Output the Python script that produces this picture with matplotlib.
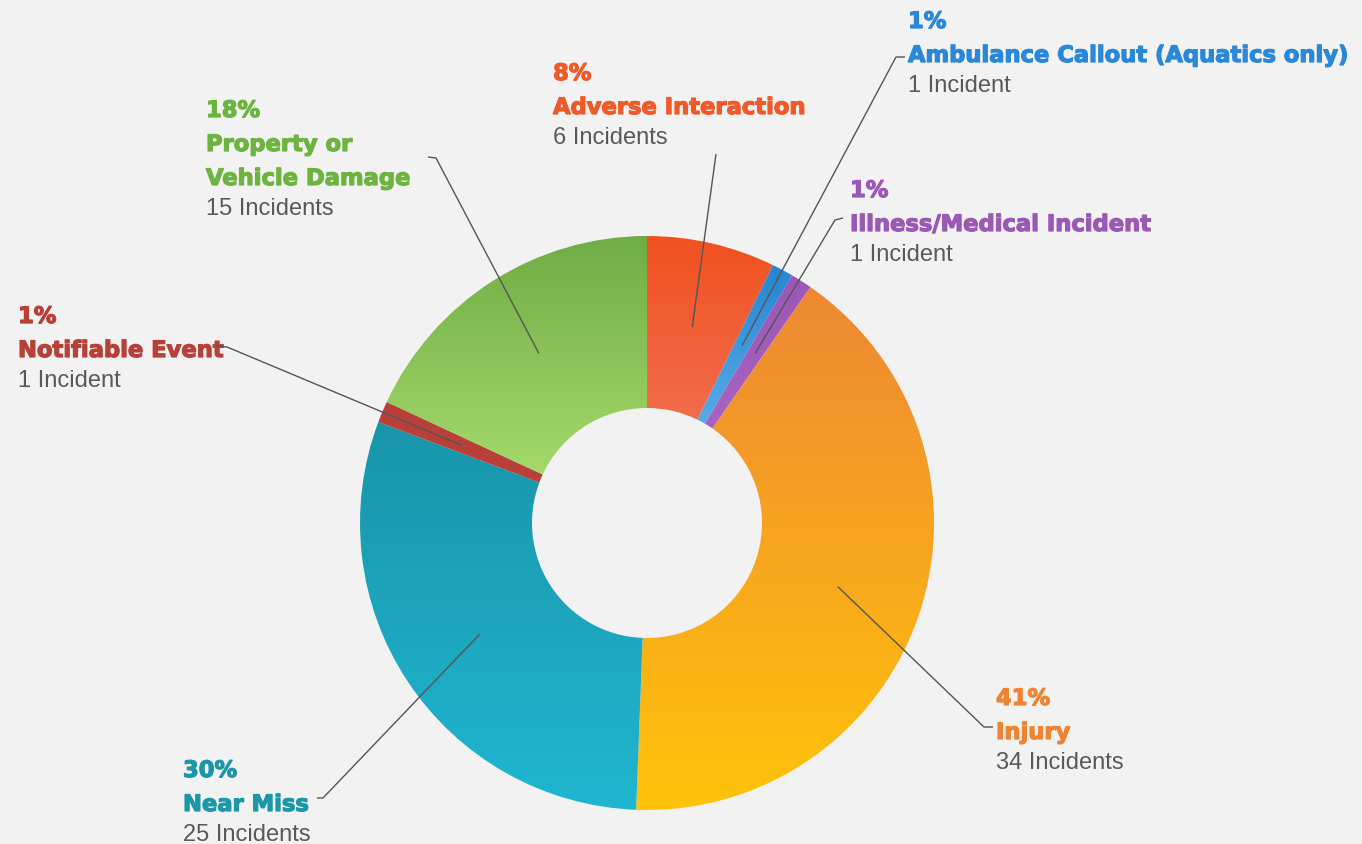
import numpy as np
import matplotlib
matplotlib.use("Agg")
import matplotlib.pyplot as plt
import matplotlib.patheffects as pe
from matplotlib.patches import Wedge
from matplotlib.colors import LinearSegmentedColormap

# data, clockwise from 12 o'clock
names = ["Adverse Interaction", "Ambulance Callout (Aquatics only)",
         "Illness/Medical Incident", "Injury", "Near Miss",
         "Notifiable Event", "Property or\nVehicle Damage"]
counts = [6, 1, 1, 34, 25, 1, 15]
pct_labels = ["8%", "1%", "1%", "41%", "30%", "1%", "18%"]
count_labels = ["6 Incidents", "1 Incident", "1 Incident", "34 Incidents",
                "25 Incidents", "1 Incident", "15 Incidents"]

# gradient top -> bottom for each slice, and label colour
grad_top = ["#F0511F", "#2586D0", "#9A57B5", "#EE8834", "#1995A9", "#B9403A", "#70AC45"]
grad_bot = ["#F26C4C", "#58AAE7", "#AA62C2", "#FFC30A", "#20B6D1", "#B9403A", "#A5D96B"]
text_col = ["#F05A28", "#2B88D8", "#9B59B6", "#EE8433", "#1A97A8", "#B94038", "#6DB33F"]

# label placement (pixel coords, y down): text x, first baseline, connector corner, tick end
label_x = [553, 908, 850, 996, 183, 18, 206]
label_y = [80, 28, 197, 705, 777, 323, 117]
corner = [(716, 154), (896, 57), (835, 220), (984, 727), (323, 798), (227, 347), (436, 158)]
tick_end = [None, (905, 57), (843, 218), (993, 727), (317, 798), (216, 346), (428, 157)]

W, H = 1362, 844
cx, cy = 647, 523
r_out, r_in = 287, 115

fig = plt.figure(figsize=(W / 100, H / 100), dpi=100)
fig.patch.set_facecolor("#F2F2F2")
ax = fig.add_axes([0, 0, 1, 1])
ax.set_facecolor("#F2F2F2")
ax.axis("off")

total = sum(counts)
ang = -90.0
r_mid = (r_out + r_in) / 2
for i, c in enumerate(counts):
    span = c / total * 360
    w = Wedge((cx, cy), r_out, ang, ang + span, width=r_out - r_in,
              facecolor="none", edgecolor="none")
    ax.add_patch(w)
    bb = w.get_path().get_extents()
    cmap = LinearSegmentedColormap.from_list("g%d" % i, [grad_top[i], grad_bot[i]])
    grad = np.linspace(0, 1, 256).reshape(-1, 1)
    im = ax.imshow(grad, cmap=cmap, origin="upper", aspect="auto",
                   extent=(bb.x0, bb.x1, bb.y1, bb.y0), interpolation="bilinear")
    im.set_clip_path(w)

    # connector
    mid = np.deg2rad(ang + span / 2)
    ax_, ay_ = cx + r_mid * np.cos(mid), cy + r_mid * np.sin(mid)
    xs = [ax_, corner[i][0]]
    ys = [ay_, corner[i][1]]
    if tick_end[i] is not None:
        xs.append(tick_end[i][0])
        ys.append(tick_end[i][1])
    ax.plot(xs, ys, color="#555555", lw=1.0, solid_capstyle="butt", zorder=5)

    # labels
    heavy = [pe.withStroke(linewidth=0.9, foreground=text_col[i])]
    y = label_y[i]
    ax.text(label_x[i], y, pct_labels[i], color=text_col[i], fontsize=16.3,
            fontweight="bold", family="DejaVu Sans", va="baseline", ha="left",
            path_effects=heavy)
    for line in names[i].split("\n"):
        y += 34
        ax.text(label_x[i], y, line, color=text_col[i], fontsize=16.3,
                fontweight="bold", family="DejaVu Sans", va="baseline", ha="left",
                path_effects=heavy)
    y += 30
    ax.text(label_x[i], y, count_labels[i], color="#595959", fontsize=17,
            family="Liberation Sans", va="baseline", ha="left")

    ang += span

ax.set_xlim(0, W)
ax.set_ylim(H, 0)

fig.savefig("out.png", dpi=100, facecolor=fig.get_facecolor())
